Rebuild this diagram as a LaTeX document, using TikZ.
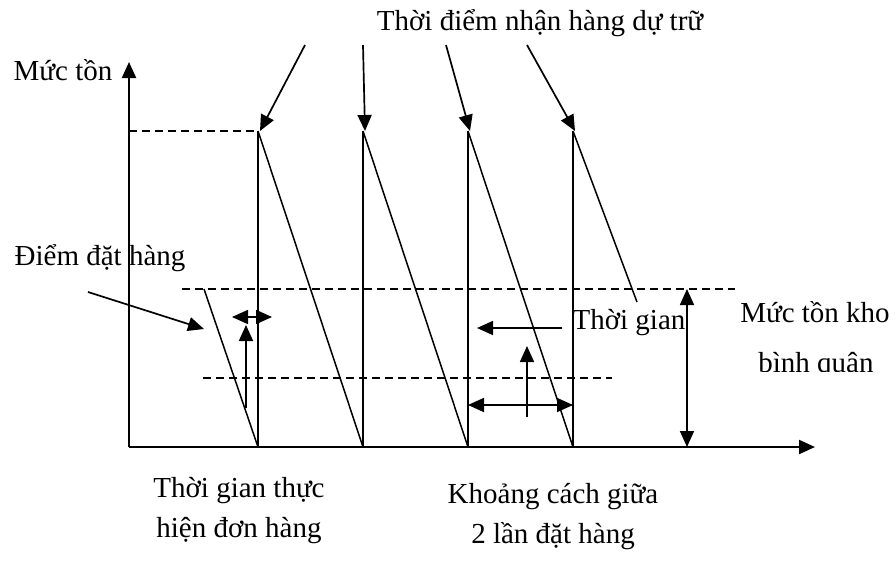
\documentclass[tikz,border=0pt]{standalone}
\usepackage{fontspec}
\setmainfont{Liberation Serif}
\usetikzlibrary{arrows.meta}

\begin{document}
\begin{tikzpicture}[x=0.5pt,y=-0.5pt,>={Triangle[length=8pt,width=7pt]},every node/.style={font=\fontsize{14.5}{20}\selectfont},
  axis/.style={line width=1.1pt},
  saw/.style={line width=0.75pt},
  guide/.style={line width=0.6pt,dash pattern=on 4pt off 2.5pt},
  pointer/.style={->,line width=0.85pt}]
\useasboundingbox (0,0) rectangle (896,564);
% axes
\coordinate (O) at (129,447);
\coordinate (ytop) at (129,62);
\coordinate (xend) at (815,447);
\draw[axis,->] (O) -- (ytop);
\draw[axis,->] (O) -- (xend);
\node (ylab) at (63,70) {Mức tồn};
% sawtooth
\foreach \i/\x in {1/258,2/363,3/468,4/573} {
  \coordinate (top\i) at (\x,131);
  \coordinate (bot\i) at (\x,447);
}
\coordinate (start) at (204,289);
\coordinate (stop) at (637,302);
\draw[saw] (start) -- (bot1);
\foreach \i/\j in {1/2,2/3,3/4} {
  \draw[axis] (bot\i) -- (top\i);
  \draw[saw] (top\i) -- (bot\j);
}
\draw[axis] (bot4) -- (top4);
\draw[saw] (top4) -- (stop);
% guide lines
\draw[guide] (129,131) -- (top1);
\draw[guide] (182,289) -- (735,289);
\draw[guide] (203,378) -- (612,378);
% receiving times
\node (recv) at (540,23) {Thời điểm nhận hàng dự trữ};
\foreach \i/\s in {1/305,2/363,3/446,4/527} {
  \coordinate (src\i) at (\s,45);
  \draw[pointer] (src\i) -- ([xshift=1pt]top\i);
}
% reorder point
\node (reorder) at (100,258) {Điểm đặt hàng};
\coordinate (rp0) at (88,292);
\coordinate (rp1) at (204,329);
\draw[pointer] (rp0) -- (rp1);
\coordinate (lt0) at (232,317);
\coordinate (lt1) at (272,317);
\draw[pointer,<->] (lt0) -- (lt1);
\coordinate (up0) at (246,408);
\coordinate (up1) at (246,325);
\draw[pointer] (up0) -- (up1);
% cycle
\node (time) at (629,323) {Thời gian};
\coordinate (tm0) at (562,328);
\coordinate (tm1) at (477,328);
\draw[pointer] (tm0) -- (tm1);
\coordinate (up2) at (527,417);
\coordinate (up3) at (527,346);
\draw[pointer] (up2) -- (up3);
\coordinate (cy0) at (468,405);
\coordinate (cy1) at (573,405);
\draw[pointer,<->] (cy0) -- (cy1);
% average stock
\coordinate (av0) at (687,289);
\coordinate (av1) at (687,447);
\draw[pointer,<->] (av0) -- (av1);
\node (avg) at (815,312) {Mức tồn kho};
\begin{scope}
\clip (700,340) rectangle (896,371);
\node (avg2) at (816,365) {bình quân};
\end{scope}
% bottom labels
\node[align=center] (lead) at (239,511) {Thời gian thực\\hiện đơn hàng};
\node[align=center] (gap) at (553,517) {Khoảng cách giữa\\2 lần đặt hàng};
\end{tikzpicture}
\end{document}
